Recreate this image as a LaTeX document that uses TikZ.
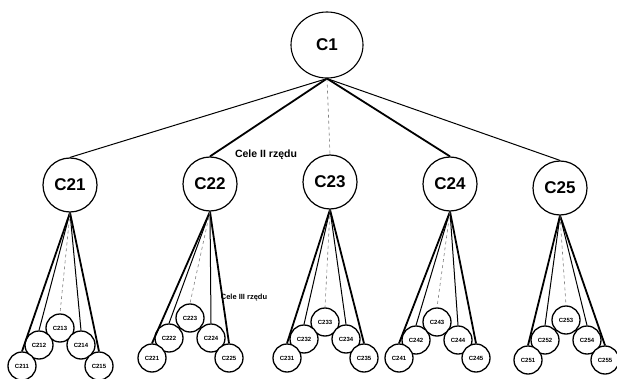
\documentclass[tikz,border=0pt]{standalone}
\usepackage{fontspec}
\setmainfont{Liberation Sans}
\usetikzlibrary{shapes.geometric}
\begin{document}
\begin{tikzpicture}[x=1pt,y=-1pt,
  big/.style={draw,line width=1.1pt,ellipse,minimum width=72pt,minimum height=66pt,inner sep=0pt,font=\bfseries\fontsize{17}{17}\selectfont},
  mid/.style={draw,line width=1.2pt,circle,minimum size=54pt,inner sep=0pt,font=\bfseries\fontsize{17}{17}\selectfont},
  small/.style={draw,line width=1.3pt,circle,minimum size=28pt,inner sep=0pt,fill=white,font=\bfseries\fontsize{6}{6}\selectfont},
  thick link/.style={line width=1.8pt},
  thin link/.style={line width=1pt},
  faint link/.style={line width=0.6pt,gray,dashed},
  lab/.style={font=\bfseries\fontsize{10.5}{10.5}\selectfont},
  lab small/.style={font=\bfseries\fontsize{7.5}{7.5}\selectfont}]
\useasboundingbox (0,0) rectangle (617,379);
\node[big] (c1) at (327,45) {C1};
\node[mid] (c21) at (70,185) {C21};
\node[mid] (c22) at (210,184) {C22};
\node[mid] (c23) at (330,182) {C23};
\node[mid] (c24) at (450,184) {C24};
\node[mid] (c25) at (560,188) {C25};
\coordinate (a) at (c1.south);
\draw[thin link] (a) -- (c21.north);
\draw[thick link] (a) -- (c22.north);
\draw[faint link] (a) -- (c23.north);
\draw[thick link] (a) -- (c24.north);
\draw[thin link] (a) -- (c25.north);
\node[lab] (l2) at (266,155) {Cele II rzędu};
\node[lab small] (l3) at (244,298) {Cele III rzędu};
\foreach \p/\cx/\ya/\yb/\yc in {1/60/328/345/366, 2/190/318/338/358, 3/325/322/339/358, 4/437/322/340/358, 5/566/320/340/360}{
  \node[small] (c2\p3) at (\cx,\ya) {C2\p3};
  \node[small] (c2\p2) at (\cx-21,\yb) {C2\p2};
  \node[small] (c2\p4) at (\cx+21,\yb) {C2\p4};
  \node[small] (c2\p1) at (\cx-38,\yc) {C2\p1};
  \node[small] (c2\p5) at (\cx+39,\yc) {C2\p5};
  \draw[thick link] (c2\p.south) -- (c2\p1.north);
  \draw[thick link] (c2\p.south) -- (c2\p5.north);
  \draw[thin link] (c2\p.south) -- (c2\p2.north);
  \draw[thin link] (c2\p.south) -- (c2\p4.north);
  \draw[faint link] (c2\p.south) -- (c2\p3.north);
}
\end{tikzpicture}
\end{document}
